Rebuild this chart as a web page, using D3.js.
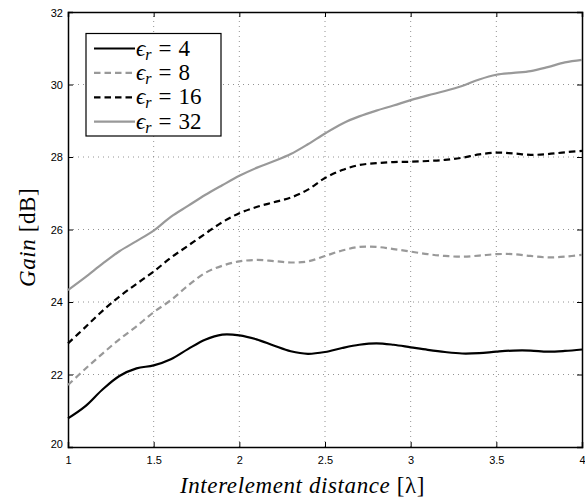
<!DOCTYPE html>
<html>
<head>
<meta charset="utf-8">
<script src="https://cdn.jsdelivr.net/npm/d3@7"></script>
<style>
  body { margin: 0; background: #fff; }
  svg { display: block; }
</style>
</head>
<body>
<div id="chart"></div>
<script>
const xValues = [1.0,1.1,1.2,1.3,1.4,1.5,1.6,1.7,1.8,1.9,2.0,2.1,2.2,2.3,2.4,2.5,2.6,2.7,2.8,2.9,3.0,3.1,3.2,3.3,3.4,3.5,3.6,3.7,3.8,3.9,4.0];
const gainEr4  = [20.79,21.12,21.58,21.96,22.17,22.25,22.42,22.70,22.96,23.10,23.08,22.97,22.80,22.64,22.57,22.62,22.73,22.82,22.86,22.82,22.75,22.68,22.62,22.58,22.59,22.63,22.66,22.66,22.63,22.65,22.69];
const gainEr8  = [21.71,22.15,22.57,22.97,23.33,23.72,24.05,24.45,24.80,25.00,25.12,25.16,25.13,25.09,25.12,25.27,25.42,25.52,25.52,25.46,25.39,25.32,25.27,25.25,25.28,25.32,25.32,25.27,25.23,25.25,25.30];
const gainEr16 = [22.86,23.30,23.75,24.15,24.50,24.84,25.22,25.55,25.88,26.20,26.45,26.62,26.75,26.88,27.10,27.42,27.64,27.78,27.83,27.86,27.87,27.89,27.92,27.98,28.07,28.12,28.10,28.06,28.08,28.13,28.17];
const gainEr32 = [24.33,24.68,25.05,25.40,25.68,25.97,26.35,26.65,26.95,27.22,27.48,27.70,27.88,28.08,28.35,28.65,28.92,29.12,29.28,29.42,29.57,29.70,29.82,29.96,30.14,30.27,30.32,30.37,30.48,30.61,30.68];
const seriesNames = ["4", "8", "16", "32"];
const xTicks = [1, 1.5, 2, 2.5, 3, 3.5, 4];
const yTicks = [20, 22, 24, 26, 28, 30, 32];

const W = 585, H = 504;
const m = {left: 68, right: 3, top: 12, bottom: 57};
const svg = d3.select("#chart").append("svg").attr("width", W).attr("height", H);

const x = d3.scaleLinear().domain([1, 4]).range([m.left, W - m.right]);
const y = d3.scaleLinear().domain([20, 32]).range([H - m.bottom, m.top]);

// grid
const grid = svg.append("g");
xTicks.slice(1, -1).forEach(t => {
  grid.append("line").attr("x1", x(t)).attr("x2", x(t)).attr("y1", y(20)).attr("y2", y(32))
    .attr("stroke", "#777").attr("stroke-width", 0.8).attr("stroke-dasharray", "1,4");
});
yTicks.slice(1, -1).forEach(t => {
  grid.append("line").attr("x1", x(1)).attr("x2", x(4)).attr("y1", y(t)).attr("y2", y(t))
    .attr("stroke", "#777").attr("stroke-width", 0.8).attr("stroke-dasharray", "1,4");
});

// axes
const tickFont = "'Liberation Sans', Arial, sans-serif";
const xAxis = svg.append("g").attr("transform", `translate(0,${y(20)})`)
  .call(d3.axisBottom(x).tickValues(xTicks).tickSize(-5).tickPadding(9).tickFormat(d3.format("")));
const xAxisTop = svg.append("g").attr("transform", `translate(0,${y(32)})`)
  .call(d3.axisTop(x).tickValues(xTicks).tickSize(-5).tickFormat(""));
const yAxis = svg.append("g").attr("transform", `translate(${x(1)},0)`)
  .call(d3.axisLeft(y).tickValues(yTicks).tickSize(-5).tickPadding(5).tickFormat(d3.format("")));
const yAxisR = svg.append("g").attr("transform", `translate(${x(4)},0)`)
  .call(d3.axisRight(y).tickValues(yTicks).tickSize(-5).tickFormat(""));
[xAxis, xAxisTop, yAxis, yAxisR].forEach(g => {
  g.select(".domain").attr("stroke", "#000").attr("stroke-width", 1.5);
  g.selectAll(".tick line").attr("stroke", "#000").attr("stroke-width", 1);
  g.selectAll("text").attr("font-family", tickFont).attr("font-size", 11).attr("fill", "#000");
});
xAxis.selectAll(".tick text").attr("dy", "0.71em");
yAxis.selectAll(".tick text").attr("dy", "0.32em");
yAxis.selectAll(".tick").filter(d => d === 20).select("text").attr("dy", "0.0em");
yAxis.selectAll(".tick").filter(d => d === 32).select("text").attr("dy", "0.45em");

// lines
const styles = [
  {data: gainEr4,  color: "#000",    dash: null},
  {data: gainEr8,  color: "#999999", dash: "6.5,4"},
  {data: gainEr16, color: "#000",    dash: "6.5,4"},
  {data: gainEr32, color: "#999999", dash: null}
];
const line = d3.line().x((d, i) => x(xValues[i])).y(d => y(d)).curve(d3.curveCatmullRom.alpha(0.5));
const plot = svg.append("g");
styles.forEach(s => {
  plot.append("path").datum(s.data).attr("d", line)
    .attr("fill", "none").attr("stroke", s.color).attr("stroke-width", 2.2)
    .attr("stroke-dasharray", s.dash);
});

// legend
const serif = "'Liberation Serif', 'Times New Roman', serif";
const leg = svg.append("g");
leg.append("rect").attr("x", 86).attr("y", 33.5).attr("width", 135).attr("height", 102.5)
  .attr("fill", "#fff").attr("stroke", "#000").attr("stroke-width", 1.2);
seriesNames.forEach((n, i) => {
  const yy = 48.5 + i * 24.4;
  leg.append("line").attr("x1", 94).attr("x2", 135).attr("y1", yy).attr("y2", yy)
    .attr("stroke", styles[i].color).attr("stroke-width", 2.2).attr("stroke-dasharray", styles[i].dash);
  const t = leg.append("text").attr("x", 136).attr("y", yy + 7).attr("font-family", serif)
    .attr("font-size", 23).attr("fill", "#000");
  t.append("tspan").attr("font-style", "italic").text("ϵ");
  t.append("tspan").attr("font-style", "italic").attr("font-size", 16).attr("dy", 4).text("r");
  t.append("tspan").attr("dy", -4).attr("dx", 7).text("=");
  t.append("tspan").attr("dx", 7).text(n);
});

// axis titles
const xt = svg.append("text").attr("x", 180).attr("y", 493).attr("font-family", serif)
  .attr("font-size", 23).attr("letter-spacing", 0.6).attr("fill", "#000");
xt.append("tspan").attr("font-style", "italic").text("Interelement distance ");
xt.append("tspan").text("[λ]");

const yt = svg.append("text").attr("transform", "translate(35,287) rotate(-90)")
  .attr("font-family", serif).attr("font-size", 23).attr("letter-spacing", 0.6).attr("fill", "#000");
yt.append("tspan").attr("font-style", "italic").text("Gain ");
yt.append("tspan").text("[dB]");
</script>
</body>
</html>
